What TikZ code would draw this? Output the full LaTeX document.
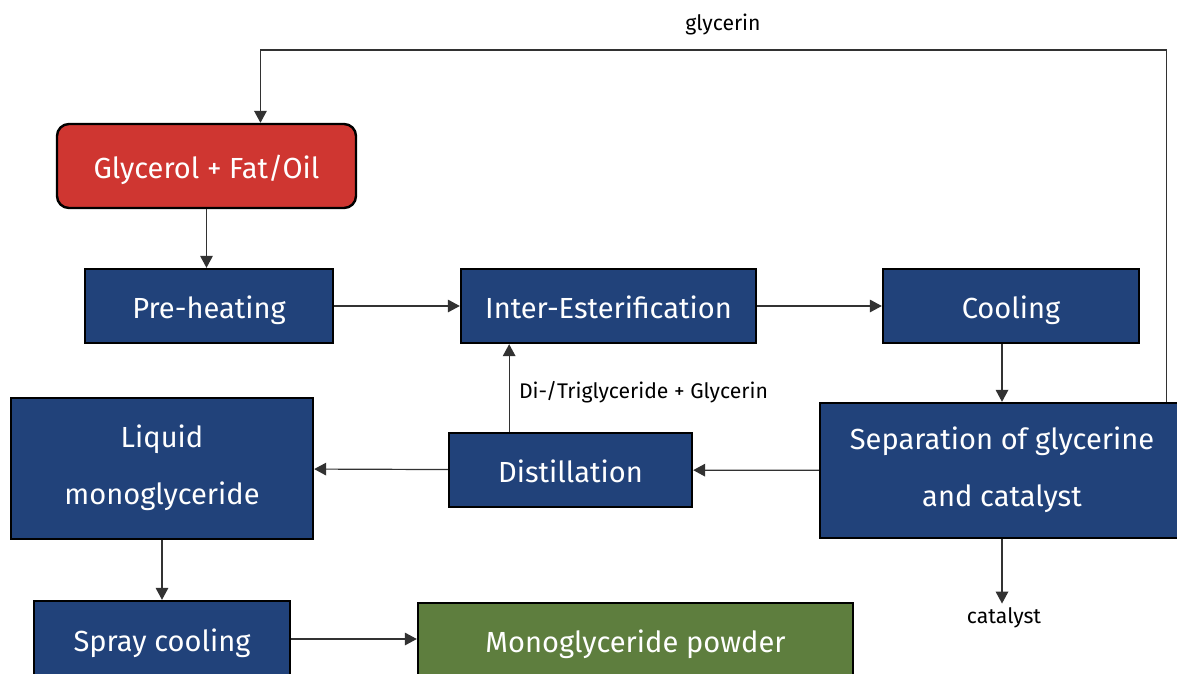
\documentclass[tikz,border=0pt]{standalone}
\usepackage{fontspec}
\setmainfont{Fira Sans}
\usetikzlibrary{arrows.meta, positioning, calc}
\definecolor{procblue}{RGB}{33, 66, 122}
\definecolor{feedred}{RGB}{207, 54, 49}
\definecolor{prodgreen}{RGB}{94, 126, 62}
\definecolor{lineg}{RGB}{50, 50, 50}

\begin{document}
\begin{tikzpicture}[x=0.75pt, y=-0.75pt,
        proc/.style={rectangle, draw=black, line width=1.8pt, fill=procblue, text=white,
                     font=\fontsize{21.8}{42.5}\selectfont, align=center, inner sep=0pt,
                     execute at begin node={\rule[-0.25em]{0pt}{1.33em}}},
        feed/.style={proc, fill=feedred, rounded corners=9pt},
        prod/.style={proc, fill=prodgreen},
        flow/.style={-{Triangle[length=9pt, width=9.5pt]}, lineg, line width=0.9pt},
        lbl/.style={font=\fontsize{15.9}{18}\selectfont, text=black, inner sep=1pt}
      ]
        \useasboundingbox (0,0) rectangle (1177,674);
        \clip (0,0) rectangle (1177,674);
        \node[feed, minimum width=224.25pt, minimum height=63pt]   (glyc)  at (206.5,166) {Glycerol + Fat/Oil};
        \node[proc, minimum width=186pt, minimum height=55.5pt]    (pre)   at (209,306)   {Pre-heating};
        \node[proc, minimum width=221.25pt, minimum height=55.5pt] (inter) at (608.5,306) {Inter-Esterification};
        \node[proc, minimum width=192pt, minimum height=55.5pt]    (cool)  at (1011,306)  {Cooling};
        \node[proc, minimum width=273pt, minimum height=101.25pt]  (sep)   at (1002,470.5) {Separation of glycerine\\and catalyst};
        \node[proc, minimum width=182.25pt, minimum height=55.5pt] (dist)  at (570.5,470) {Distillation};
        \node[proc, minimum width=226.5pt, minimum height=105.75pt] (liq)  at (162,468.5) {Liquid\\monoglyceride};
        \node[proc, minimum width=192pt, minimum height=57pt]      (spray) at (162,639)   {Spray cooling};
        \node[prod, minimum width=326.25pt, minimum height=55.5pt] (powd)  at (635.5,640) {Monoglyceride powder};
        \node[lbl] (glyclbl) at (723,24)  {glycerin};
        \node[lbl] (catlbl)  at (1004,618) {catalyst};
        % recycle loop and side streams
        \coordinate (loop) at (723,50);
        \coordinate (sepout) at ($(sep.north west)!0.948!(sep.north east)$);
        \coordinate (glycin) at ($(glyc.north west)!0.679!(glyc.north east)$);
        \coordinate (distout) at ($(dist.north west)!0.25!(dist.north east)$);
        \draw[flow] (sepout) |- (loop) -| (glycin);
        \draw[flow] (glyc.south) -- (glyc.south |- pre.north);
        \draw[flow] (pre) -- (inter);
        \draw[flow] (inter) -- (cool);
        \draw[flow] (cool.south -| sep.north) -- (sep.north);
        \draw[flow] (sep) -- (dist);
        \draw[flow] (dist) -- (liq);
        \draw[flow] (distout) -- (distout |- inter.south)
            node[lbl, pos=0.5, anchor=west, xshift=6pt, yshift=-3pt] {Di-/Triglyceride + Glycerin};
        \draw[flow] (sep.south) -- ([yshift=2pt]sep.south |- catlbl.north);
        \draw[flow] (liq) -- (spray);
        \draw[flow] (spray.east) -- (spray.east -| powd.west);
      \end{tikzpicture}
\end{document}
